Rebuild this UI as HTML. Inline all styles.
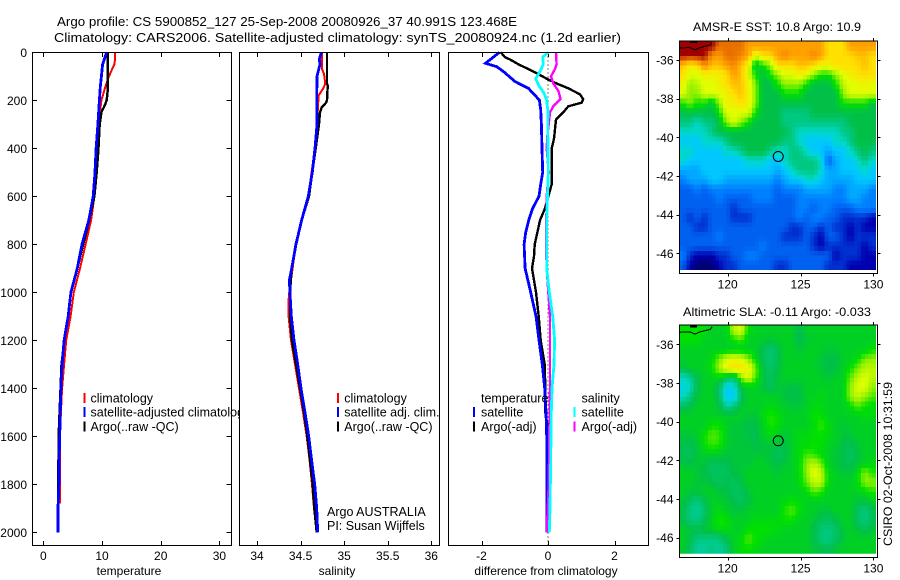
<!DOCTYPE html>
<html lang="en">
<head>
<meta charset="utf-8">
<title>Argo profile chart</title>
<style>
html,body{margin:0;padding:0;background:#fff;width:900px;height:580px;overflow:hidden}
svg{display:block}
text{font-family:"Liberation Sans",sans-serif;font-size:12px;fill:#000}
</style>
</head>
<body>
<svg id="chart" xmlns="http://www.w3.org/2000/svg" width="900" height="580" viewBox="0 0 900 580">
<rect x="0" y="0" width="900" height="580" fill="#fff"/>
<text x="57" y="26" style="font-size:13px" textLength="460" lengthAdjust="spacingAndGlyphs">Argo profile: CS 5900852_127 25-Sep-2008 20080926_37 40.991S 123.468E</text>
<text x="54" y="42" style="font-size:13px" textLength="567" lengthAdjust="spacingAndGlyphs">Climatology: CARS2006. Satellite-adjusted climatology: synTS_20080924.nc (1.2d earlier)</text>
<g id="p1"></g>
<g id="p2"></g>
<g id="p3"></g>
<g id="m1"></g>
<g id="m2"></g>
<text transform="translate(892,546) rotate(-90)" textLength="164" lengthAdjust="spacingAndGlyphs">CSIRO 02-Oct-2008 10:31:59</text>
</svg>
<script>
// ---- depth ticks ----
const depthTicks = [0,200,400,600,800,1000,1200,1400,1600,1800,2000];
const tempTicks = [0,10,20,30];
const salTicks = [34,34.5,35,35.5,36];
const diffTicks = [-2,0,2];
const lonTicks = [120,125,130];
const latTicks = [-36,-38,-40,-42,-44,-46];

// ---- temperature panel ----
const tempClimDepth = [0,50,60,100,150,200,300,400,500,600,700,800,900,1000,1100,1200,1300,1400,1500,1600,1880];
const tempClim = [12.27,12.15,11.9,11.2,10.5,9.9,9.4,9.1,8.9,8.7,8.15,7.2,6.25,5.2,4.65,3.9,3.55,3.2,3.0,2.85,2.85];
const tempSatDepth = [0,50,100,150,200,300,400,500,600,700,800,900,1000,1100,1200,1300,1400,1500,1600,1700,1800,1900,2000];
const tempSat = [10.8,10.1,9.9,9.7,9.55,9.3,9.0,8.8,8.5,7.75,6.6,5.8,4.7,4.25,3.55,3.2,3.0,2.9,2.8,2.7,2.65,2.5,2.5];
const tempArgoDepth = [0,150,200,220,250,300,400,500,600,700,800,900,1000,1100,1200,1300,1600,2000];
const tempArgo = [11.0,11.0,10.8,10.5,9.9,9.6,9.4,9.1,8.7,7.8,6.8,5.8,4.7,4.2,3.6,3.1,2.6,2.5];

// ---- salinity panel ----
const salClimDepth = [0,50,70,90,130,150,180,250,300,400,500,600,700,800,900,1000,1030,1100,1200,1300,1400,1500,1600,1700,1800,1900,2000];
const salClim = [34.746,34.746,34.746,34.769,34.784,34.761,34.707,34.696,34.696,34.665,34.627,34.589,34.512,34.447,34.409,34.371,34.363,34.363,34.39,34.436,34.482,34.528,34.57,34.604,34.631,34.654,34.685];
const salSatDepth = [0,30,50,100,200,300,400,500,600,700,800,900,950,1000,1050,1100,1200,1300,1400,1500,1600,1700,1800,1900,2000];
const salSat = [34.738,34.715,34.723,34.688,34.685,34.688,34.665,34.635,34.589,34.512,34.447,34.398,34.371,34.379,34.386,34.394,34.424,34.467,34.505,34.551,34.593,34.627,34.662,34.685,34.696];
const salArgoDepth = [0,130,140,200,210,230,250,300,400,500,600,700,800,900,1000,1100,1200,1300,1400,1500,1600,1700,1800,1900,2000];
const salArgo = [34.803,34.803,34.811,34.803,34.792,34.742,34.723,34.711,34.673,34.635,34.597,34.512,34.444,34.398,34.379,34.379,34.402,34.447,34.493,34.539,34.577,34.608,34.639,34.658,34.685];

// ---- difference panel ----
const diffTSatDepth = [0,46,60,80,122,150,199,240,300,400,500,550,600,650,700,750,800,900,1000,1100,1200,1300,1400,1500,1600,2000];
const diffTSat = [-1.46,-1.88,-1.54,-1.34,-0.99,-0.59,-0.26,-0.22,-0.2,-0.18,-0.16,-0.22,-0.27,-0.46,-0.58,-0.67,-0.72,-0.69,-0.52,-0.36,-0.27,-0.17,-0.1,-0.06,-0.04,-0.03];
const diffTArgoDepth = [0,20,30,50,80,110,130,150,175,195,210,225,250,280,320,360,400,500,550,600,650,700,750,800,850,900,1000,1100,1200,1300,1400,1500,1550,2000];
const diffTArgo = [-1.42,-1.3,-1.14,-0.89,-0.44,-0.04,0.26,0.61,0.96,1.06,1.01,0.61,0.46,0.24,0.21,0.18,0.11,0.11,0.11,0.01,-0.09,-0.24,-0.32,-0.4,-0.42,-0.48,-0.36,-0.28,-0.22,-0.1,-0.08,-0.08,-0.02,-0.02];
const diffSSatDepth = [0,20,50,80,110,140,170,200,250,300,500,700,800,900,1000,1100,1200,1300,1400,1500,1700,1900,2000];
const diffSSat = [0.01,-0.16,-0.14,-0.24,-0.37,-0.27,-0.12,-0.04,0,-0.01,0.01,-0.04,-0.04,-0.04,0.04,0.14,0.2,0.18,0.12,0.1,0.08,0.06,0.04];
const diffSArgoDepth = [0,50,70,100,130,160,195,225,250,300,350,400,500,600,800,900,1000,1100,1200,1400,1600,1800,1950,2000];
const diffSArgo = [0.24,0.26,0.21,0.09,0.16,0.31,0.38,0.16,0.06,0.02,-0.02,-0.04,0.02,-0.04,-0.06,-0.04,0.01,0.06,0.06,0.06,0.04,0.02,-0.02,-0.02];

// ---- SST map grid (colour level per 0.5 degree cell, north to south) ----
const sstGrid = [
[16,16,16,16,16,15,15,15,15,14,14,14,14,14,14,14,14,14,14,14,13,13,13,14,14,14,14],
[16,16,16,16,14.5,14,15,15,14.5,14,12,13,13,14,14.5,14,14,14,14.5,14,13,13,13,13,13.5,13.5,13],
[13.5,12.5,13,14.5,13.5,13.5,14,14.5,13.5,12.5,9,10,11,13,13,13,13.5,13.5,13,12.5,12.5,13,13,13,13,13.5,13],
[13,12,12,12.5,12.5,12.5,13,14,13.5,12,10,9,10,11,12,12,12.5,12,11,10,10,11,12,12.5,13,13,13],
[12.5,11,11.5,12,12,12.5,13,13.5,13.5,12.5,11,9,9,10,11,11,11,10,9,9,9,10,11.5,12,12,12.5,12],
[12,11,11,12,12,12,12.5,13,13.5,12.5,11,9,9,9,10,10,10,9,9,9,9,9,11,12,12,12,12],
[10,11,10,10,9,11,12.5,12.5,13,12.5,11,9,9,9,9,9,9,9,9,9,9,9,10,10,10,10,9],
[9,9,9,9,9,10,12,12,12,12,10,9,9,9,8,8,8,8,9,9,9,9,9,9,9,9,9],
[8,8,7,8,8,9,11,12,11,10,9,9,9,9,8,8,8,8,8,8,8,8,8,9,9,9,9],
[7,7,7,7,8,9,9,9,9,9,9,9,9,9,9,8,7,7,7,7,7,7,8,8,9,9,9],
[6,6,6,7,7,7,8,9,9,9,9,9,9,9,8,8,7,6,6,6,6,7,7,8,9,9,9],
[7,7,6,6,6,6,7,7,8,9,9,9,8,7,7,8,8,7,6,6,5,6,6,7,8,9,8],
[7,6,6,6,6,6,6,6,6,7,7,7,6,6,7,8,8,8,8,7,3,5,6,6,7,8,7],
[5,5,5,6,6,6,6,6,6,6,6,6,6,5,6,7,8,8,8,7,5,5,6,6,6,7,6],
[4,5,5,5,6,6,5,5,5,5,5,5,5,4,5,6,6,7,7,6,5,5,5,5,6,6,6],
[3,3,4,3,4,4,4,4,4,4,4,4,4,3,4,4,4,5,5,5,5,4,4,5,5,5,4],
[3,3,3,3,3,4,3,3,3,3,4,4,4,3,3,3,4,4,4,4,4,4,4,5,5,4,4],
[3,3,3,3,3,3,3,2,3,3,3,3,3,3,3,3,4,4,3,4,4,3,3,3,4,4,4],
[3,2,3,2,3,3,3,2,2,2,3,3,3,3,3,3,4,3,4,4,3,3,2,2,2,2,1],
[3,3,2,2,3,3,3,3,3,3,3,3,3,3,3,2,2,3,3,2,3,2,2,1,2,1,1],
[3,3,3,3,3,4,3,3,3,3,3,3,3,3,2,2,2,3,2,1,3,3,2,1,2,2,2],
[3,3,3,3,3,3,3,3,3,3,3,4,3,3,3,3,3,3,2,1,2,2,2,2,2,1,2],
[4,2,1,1,1,2,2,3,3,4,4,3,3,3,3,3,3,3,3,3,3,1,2,2,2,1,1],
[3,1,0,0,0,1,2,2,3,3,3,3,3,2,2,3,3,3,3,3,2,2,2,1,1,1,1]
];

// ---- SLA map grid ----
const slaGrid = [
[10,10,10,10,9.5,9.5,9.5,11.5,12,10,9.5,9.5,9.5,9.5,9.5,9.5,8.8,9.5,9.5,9.5,9.5,9.5,9.5,9.5,9.5,9.5,9.5],
[10,10,10,9.5,9.5,9.5,9.5,10,10.5,9.5,9.5,9.5,9.2,9.5,9.5,9.5,8.8,9.2,9.5,9.5,9.5,9.5,9.5,9.5,9.5,9.5,9.5],
[9.5,9.5,9.5,9.5,9.5,9.5,9.5,9.5,9.5,9.5,9.5,8.8,8.2,8.8,9.5,9.5,9.2,9.5,9.5,9.5,9.2,9.2,9.5,9.5,9.5,9.5,10],
[9.5,9.5,9.5,9.5,9.8,10.8,11.8,12.2,12,11,9.8,8.8,8.2,8.8,9.5,9.5,9.5,9.5,9.5,9.2,9,9,9.5,9.5,9.8,10.8,11],
[9,9.5,9.5,9.5,10,11.2,12.5,13,13,12.5,10.8,9,8.5,9,9.5,9.5,9.5,9.5,9.5,9.2,9,9,9.5,10,10.8,11.5,11.5],
[7,7.6,9,9.5,9.5,9.8,8.8,8.2,10.8,12,10.5,9.2,8.6,9.2,9.5,9.5,9.5,9.5,9.5,9.5,9.2,9.5,9.5,10.6,11.5,12,11.5],
[6.5,7,9,9.5,9.5,8.6,6.2,6.4,9,9.5,9.5,9.2,8.6,9.2,9.2,9,9,9.5,9.5,9.5,9.5,9.5,9.5,11,12,12,11],
[7,8,9.2,9.5,9.5,8.6,6,6,8.6,9.5,9.5,9.5,9.5,9.5,9,9,9,9.5,9.5,9.8,9.5,9.5,9.5,11,11.6,11,10.5],
[8.6,9,9.5,9.5,9.5,9.2,7.6,8,9.2,9.5,9.5,9.5,9.8,9.5,9.5,9.2,9.2,9.5,9.8,9.8,9.5,9.5,9.5,9.8,10.6,10,9.8],
[9.5,9.5,9.5,9.5,9.5,9.5,9.5,9.5,9.5,9.2,9.2,9.8,10.2,10,9.5,9.5,9.5,9.5,10,10,9.5,9.5,9.5,9.5,9.5,9.8,9.8],
[9.5,9.5,9.5,9.5,10,10,9.5,9.2,9.2,9,9,9.5,10.2,10,9.5,9.5,9.5,9.5,9.8,10.4,9.8,9.5,9.2,9.5,9.5,9.5,9.5],
[9.2,9.2,9.5,10,10.6,10.4,9.5,9.2,9.2,9,8.8,9.5,9.8,9.5,9.2,9.5,9.8,9.8,10,10,9.8,9.5,9.2,9.2,9.5,9.5,9.5],
[9,8.8,9.2,10,10.4,10.2,9.5,9.2,9.2,9.2,9,9.2,9.2,9.2,9,9.5,9.8,9.8,10,10,9.5,9.5,9,8.8,9.2,9.5,9.5],
[8.8,8.6,9.2,9.5,9.5,9.5,9.2,9.2,9.2,9.2,9.2,9.2,9.2,8.6,8.8,9.5,9.8,10.4,10.2,9.8,9.5,9.2,9,8.6,9,9.5,9.5],
[9.2,9,9.2,9.2,8.6,8.8,8.8,9.2,9.2,9.2,9.5,9.5,9.2,9,9.2,9.5,9.8,11,11.5,10.8,9.5,9.2,9,8.8,9.2,9.5,9.8],
[9.5,9.5,9.2,9,8.6,8.6,8.6,9,9.2,9.5,9.5,9.5,9.5,9.2,9.5,9.5,9.8,11,12.2,11.6,9.8,9.5,9.2,9.2,9.8,11,10.2],
[9.5,9.5,9.2,9.2,9,8.6,9,8.6,9,9.5,9.5,9.5,9.5,9.5,9.5,9.5,9.8,10.6,11.6,11.6,9.8,9.5,9.5,9.5,9.8,11,11],
[9.5,9.2,9.2,9.5,9.5,9.2,9,8.6,8.6,9.2,9.5,9.5,9.5,9.5,9.5,9.5,9.5,9.8,10.6,10.2,9.5,9.5,9.5,9.5,9.5,9.8,10.2],
[9.2,8.6,8,8.8,9.5,9.5,9.2,9,8.6,9,9.5,9.5,9.5,9.5,9.8,10,9.8,9.5,9.5,9.5,9.5,9.5,9.5,9.5,9.2,9,9.5],
[9,8,7.6,8.4,9.5,9.8,9.5,9.2,9.2,9.5,9.5,9.5,9.5,9.5,10.2,10.6,10,9.5,9.5,9.2,9.2,9.5,9.5,9.5,8.6,8,8.8],
[9,8.2,8,8.8,9.5,10.2,10,9.5,9.5,9.5,9.8,9.8,9.8,9.8,10,10,9.5,9.5,9.2,8.8,8.5,9,9.5,9.5,8.6,8,8.8],
[9.5,9.2,9,9.2,9.5,9.8,9.8,9.5,9.5,10,10,10,10,9.8,9.5,9.5,9.5,9.5,9,8.2,8,8.4,9.2,9.5,9.2,8.8,9.2],
[9.5,9,8,8,7.8,8,9,9.5,9.8,10.6,10,9.8,9.5,9.5,9.5,9.5,9.5,9.5,9,8.2,8,8.6,9.2,9.5,9.5,9.5,9.5],
[9.5,8.6,7.6,7.6,8,7.6,8.2,9.5,9.8,10,9.8,9.5,9.5,9.5,9.5,9.5,9.5,9.5,9.2,9,8.8,9.2,9.5,9.5,9.5,9.5,9.5]
];

// ---- map overlays ----
const coastLon = [116.66,117.41,117.76,118.1,118.8,118.92];
const coastLat = [-35.38,-35.36,-35.47,-35.36,-35.23,-35.1];
const islandLon = [117.4,117.9];
const islandLat = [-35.07,-35.07];
const floatLon = 123.468;
const floatLat = -40.991;

const levelColours = ["#000070","#0000b0","#0030d0","#0060f0","#0080ff","#00a8ff","#00c8ff","#00d8c8","#00c880","#00c048","#00e000","#90f000","#e0ff00","#ffe000","#ffa000","#e87000","#a00000"];

const NS = "http://www.w3.org/2000/svg";
function mk(parent, tag, attrs, txt){
  const e = document.createElementNS(NS, tag);
  for (const k in attrs) e.setAttribute(k, attrs[k]);
  if (txt !== undefined) e.textContent = txt;
  parent.appendChild(e);
  return e;
}
const yDepth = d => 52.3 + 0.24 * d;
function hex(c){ return [1,3,5].map(i => parseInt(c.substr(i,2),16)); }
function colour(v){
  const i = Math.max(0, Math.min(levelColours.length-1, v));
  const a = Math.floor(i), b = Math.min(levelColours.length-1, a+1), t = i-a;
  const A = hex(levelColours[a]), B = hex(levelColours[b]);
  return "rgb(" + A.map((x,k) => Math.round(x+(B[k]-x)*t)).join(",") + ")";
}
function series(g, xf, depth, vals, col, w, name){
  const pts = depth.map((d,i) => xf(vals[i]).toFixed(1) + "," + yDepth(d).toFixed(1)).join(" ");
  const el = mk(g, "polyline", {points:pts, fill:"none", stroke:col, "stroke-width":w, "shape-rendering":"crispEdges"});
  
  
}
function panel(g, x0, x1, xf, ticks, xlabel, xlabelX, showDepth){
  const bg = mk(g, "rect", {x:x0, y:52.5, width:x1-x0, height:493, fill:"#fff"});
  
  
  ticks.forEach(t => {
    const x = Math.round(xf(t)) + 0.5;
    const tt = mk(g, "path", {d:"M"+x+" 52.5V57M"+x+" 545.5V541", stroke:"#000", "shape-rendering":"crispEdges", fill:"none"});
    
    
    const lb = mk(g, "text", {x:xf(t), y:560, "text-anchor":"middle"}, String(t));
    
    
  });
  if (showDepth) depthTicks.forEach(d => {
    const y = Math.round(yDepth(d)) + 0.5;
    const tt = mk(g, "path", {d:"M"+x0+" "+y+"H"+(x0+4.5)+"M"+x1+" "+y+"H"+(x1-5), stroke:"#000", "shape-rendering":"crispEdges", fill:"none"});
    
    
    const lb = mk(g, "text", {x:27, y:yDepth(d)+4.5, "text-anchor":"end"}, String(d));
    
    
  });
  const xl = mk(g, "text", {x:xlabelX, y:575, "text-anchor":"middle"}, xlabel);
  
  
}
function frame(g, x0, x1){
  const f = mk(g, "rect", {x:x0, y:52.5, width:x1-x0, height:493, fill:"none", stroke:"#000", "shape-rendering":"crispEdges"});
  
  
}
function legend(g, bx, tx, y, col, label){
  const b = mk(g, "rect", {x:bx, y:y-5, width:2, height:10, fill:col});
  
  
  const t = mk(g, "text", {x:tx, y:y+4.5, style:"font-size:12.5px"}, label);
  
  
}

// Panel 1
const p1 = document.getElementById("p1");
const xT = v => 43.3 + 5.87 * v;
panel(p1, 32.5, 231.5, xT, tempTicks, "temperature", 129, true);
series(p1, xT, tempClimDepth, tempClim, "#ff0000", 2, "temperature-climatology-line");
series(p1, xT, tempArgoDepth, tempArgo, "#000000", 2.4, "temperature-argo-line");
series(p1, xT, tempSatDepth, tempSat, "#0000ff", 2.8, "temperature-satellite-line");
frame(p1, 32.5, 231.5);
legend(p1, 83.5, 90.5, 398, "#ff0000", "climatology");
legend(p1, 83.5, 90.5, 412, "#0000ff", "satellite-adjusted climatology");
legend(p1, 83.5, 90.5, 426.5, "#000000", "Argo(..raw -QC)");

// Panel 2
const p2 = document.getElementById("p2");
const xS = v => 257 + 87.15 * (v - 34);
panel(p2, 239.5, 439.5, xS, salTicks, "salinity", 337, false);
series(p2, xS, salClimDepth, salClim, "#ff0000", 2, "salinity-climatology-line");
series(p2, xS, salArgoDepth, salArgo, "#000000", 2.4, "salinity-argo-line");
series(p2, xS, salSatDepth, salSat, "#0000ff", 2.8, "salinity-satellite-line");
frame(p2, 239.5, 439.5);
legend(p2, 337, 344.3, 398, "#ff0000", "climatology");
legend(p2, 337, 344.3, 412, "#0000ff", "satellite adj. clim.");
legend(p2, 337, 344.3, 426.5, "#000000", "Argo(..raw -QC)");
const ag = mk(p2, "text", {x:327, y:516, style:"font-size:12.5px"}, "Argo AUSTRALIA");


const pi = mk(p2, "text", {x:327, y:530, style:"font-size:12.5px"}, "PI: Susan Wijffels");



// Panel 3
const p3 = document.getElementById("p3");
const xD = v => 548 + 33.25 * v;
panel(p3, 448.5, 648.5, xD, diffTicks, "difference from climatology", 546, false);
const zero = mk(p3, "line", {x1:xD(0), x2:xD(0), y1:52.5, y2:545.5, stroke:"#000", "stroke-dasharray":"1 3", "shape-rendering":"crispEdges"});


series(p3, xD, diffTArgoDepth, diffTArgo, "#000000", 2.4, "temperature-argo-difference-line");
series(p3, xD, diffTSatDepth, diffTSat, "#0000ff", 2.8, "temperature-satellite-difference-line");
series(p3, xD, diffSArgoDepth, diffSArgo, "#ff00ff", 2.4, "salinity-argo-difference-line");
series(p3, xD, diffSSatDepth, diffSSat, "#00ffff", 2.8, "salinity-satellite-difference-line");
frame(p3, 448.5, 648.5);
const h1 = mk(p3, "text", {x:481, y:402.5, style:"font-size:12.5px"}, "temperature");


const h2 = mk(p3, "text", {x:581.5, y:402.5, style:"font-size:12.5px"}, "salinity");


legend(p3, 473, 481, 412, "#0000ff", "satellite");
legend(p3, 473, 481, 426.5, "#000000", "Argo(-adj)");
legend(p3, 573.5, 581.5, 412, "#00ffff", "satellite");
legend(p3, 573.5, 581.5, 426.5, "#ff00ff", "Argo(-adj)");

// Maps
const CELL_DEG = 0.5;
const LON0 = 116.66;
const SUB = 2;
function sample(grid, gx, gy){
  const rows = grid.length, cols = grid[0].length;
  const cx = Math.max(0, Math.min(cols - 1, gx)), cy = Math.max(0, Math.min(rows - 1, gy));
  const x0 = Math.floor(cx), y0 = Math.floor(cy);
  const x1 = Math.min(cols - 1, x0 + 1), y1 = Math.min(rows - 1, y0 + 1);
  const tx = cx - x0, ty = cy - y0;
  return (grid[y0][x0] * (1 - tx) + grid[y0][x1] * tx) * (1 - ty) + (grid[y1][x0] * (1 - tx) + grid[y1][x1] * tx) * ty;
}
function map(g, grid, top, lat36y, imgBottom, frameBottom, title, titleX, titleW, titleY){
  const xLon = v => 727.7 + 14.57 * (v - 120);
  const yLat = v => lat36y + 19.33 * (-36 - v);
  const nCols = grid[0].length * SUB, nRows = grid.length * SUB;
  const cellH = (imgBottom - top) / nRows;
  const cellW = (xLon(LON0 + CELL_DEG) - xLon(LON0)) / SUB;
  for (let r = 0; r < nRows; r++) {
    for (let c = 0; c < nCols; c++) {
      const v = sample(grid, (c + 0.5) / SUB - 0.5, (r + 0.5) / SUB - 0.5);
      const cell = mk(g, "rect", {x:(xLon(LON0) + c * cellW).toFixed(2), y:(top + r * cellH).toFixed(2), width:(cellW + 0.6).toFixed(2), height:(cellH + 0.6).toFixed(2), fill:colour(v), "shape-rendering":"crispEdges"});
      
      
    }
  }
  const mask = mk(g, "path", {d:"M876 "+top+"H878V"+frameBottom+"H679V"+imgBottom+"H876Z", fill:"#fff"});
  
  
  const coast = mk(g, "polyline", {points:coastLon.map((o,i) => xLon(o).toFixed(1)+","+yLat(coastLat[i]).toFixed(1)).join(" "), fill:"none", stroke:"#000", "stroke-width":1, "shape-rendering":"crispEdges"});
  
  
  const isl = mk(g, "polyline", {points:islandLon.map((o,i) => xLon(o).toFixed(1)+","+yLat(islandLat[i]).toFixed(1)).join(" "), fill:"none", stroke:"#000", "stroke-width":2, "shape-rendering":"crispEdges"});
  
  
  const circ = mk(g, "circle", {cx:xLon(floatLon), cy:yLat(floatLat), r:5, fill:"none", stroke:"#000", "stroke-width":1});
  
  
  const f = mk(g, "rect", {x:679.5, y:top-0.5, width:198, height:frameBottom-top+0.5, fill:"none", stroke:"#000", "shape-rendering":"crispEdges"});
  
  
  lonTicks.forEach(t => {
    const x = Math.round(xLon(t)) + 0.5;
    const tt = mk(g, "path", {d:"M"+x+" "+(top-0.5)+"v-3M"+x+" "+(frameBottom)+"v3", stroke:"#000", "shape-rendering":"crispEdges", fill:"none"});
    
    
    const lb = mk(g, "text", {x:xLon(t), y:frameBottom+15, "text-anchor":"middle"}, String(t));
    
    
  });
  latTicks.forEach(t => {
    const y = Math.round(yLat(t)) + 0.5;
    const tt = mk(g, "path", {d:"M679.5 "+y+"h-3M877.5 "+y+"h3", stroke:"#000", "shape-rendering":"crispEdges", fill:"none"});
    
    
    const lb = mk(g, "text", {x:673.5, y:yLat(t)+4.5, "text-anchor":"end"}, "-" + Math.abs(t));
    
    
  });
  const tl = mk(g, "text", {x:titleX, y:titleY, textLength:titleW, lengthAdjust:"spacingAndGlyphs"}, title);
  
  
}
map(document.getElementById("m1"), sstGrid, 41.5, 60, 270, 273.5, "AMSR-E SST: 10.8 Argo: 10.9", 693, 168, 31);
map(document.getElementById("m2"), slaGrid, 325.5, 344.3, 553.7, 557.5, "Altimetric SLA: -0.11 Argo: -0.033", 683, 188, 316);
</script>
</body>
</html>
